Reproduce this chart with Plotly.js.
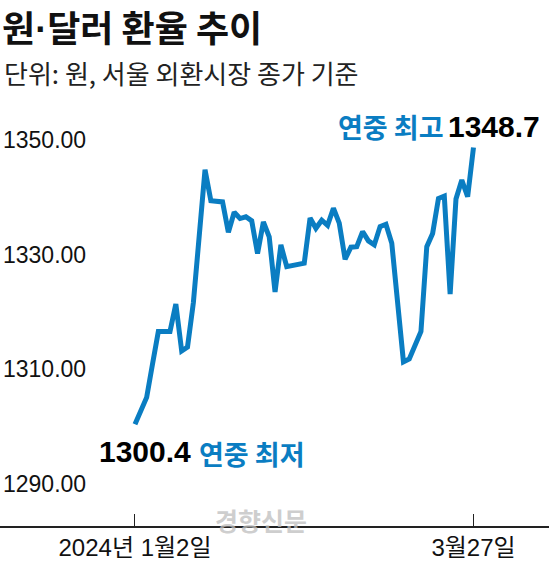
<!DOCTYPE html>
<html>
<head>
<meta charset="utf-8">
<script src="https://cdn.plot.ly/plotly-3.0.1.min.js"></script>
<style>
html,body{margin:0;padding:0;background:#fff;}
#chart{width:549px;height:561px;}
</style>
</head>
<body>
<div id="chart"></div>
<script>
// Trading-day index 0 = 2024-01-02 ... 58 = 2024-03-27
var dayIndex = [];
for (var k = 0; k < 59; k++) dayIndex.push(k);

var rates = [
  1300.4, 1302.8, 1305.1, 1310.9, 1316.6, 1316.6, 1316.6, 1321.4, 1313.2, 1313.9,
  1321.6, 1333.2, 1344.8, 1339.4, 1339.3, 1339.2, 1333.9, 1337.4, 1336.3, 1336.6,
  1335.9, 1330.2, 1335.7, 1333.1, 1323.5, 1331.7, 1327.9, 1328.1, 1328.3, 1328.5,
  1336.4, 1334.6, 1336.0, 1335.1, 1338.1, 1335.5, 1329.2, 1331.3, 1331.4, 1334.0,
  1332.4, 1331.7, 1334.9, 1335.3, 1332.0, 1321.6, 1311.3, 1311.8, 1314.2, 1316.6,
  1331.4, 1333.7, 1339.8, 1340.2, 1323.1, 1339.7, 1343.0, 1340.1, 1348.7
];

var yTickVals = [1290, 1310, 1330, 1350];
var xTickVals = [0, 58];
var xTickText = ["2024년 1월2일", "3월27일"];

var titleParts = ["원", "달러 환율 추이"];
var subtitleText = "단위: 원, 서울 외환시장 종가 기준";
var lowLabel = "연중 최저";
var highLabel = "연중 최고";
var watermark = "경향신문";

var minVal = Math.min.apply(null, rates);
var maxVal = Math.max.apply(null, rates);
var minIdx = rates.indexOf(minVal);
var maxIdx = rates.indexOf(maxVal);

var latin = "'Liberation Sans', 'Noto Sans CJK KR', sans-serif";
var kr = "'Noto Sans CJK KR', 'Noto Sans', sans-serif";
var blue = "#0a7dc2";

var trace = {
  x: dayIndex,
  y: rates,
  type: "scatter",
  mode: "lines",
  line: {color: blue, width: 5},
  hoverinfo: "skip"
};

var layout = {
  width: 549,
  height: 561,
  margin: {l: 0, r: 0, t: 94, b: 35, pad: 0},
  paper_bgcolor: "#fff",
  plot_bgcolor: "#fff",
  showlegend: false,
  title: {
    text: "<b>" + titleParts[0] + "<span style=\"font-family:'Liberation Sans'\">·</span>" + titleParts[1] + "</b>",
    x: 0, xref: "container", xanchor: "left",
    y: 1 - 29 / 561, yref: "container", yanchor: "middle",
    pad: {l: 2},
    font: {family: kr, size: 36, color: "#111"}
  },
  xaxis: {
    range: [-23.13, 70.94],
    tickmode: "array",
    tickvals: xTickVals,
    ticktext: xTickText,
    ticks: "inside",
    ticklen: 12,
    tickwidth: 1,
    tickcolor: "#222",
    showline: true,
    linecolor: "#222",
    linewidth: 1.5,
    showgrid: false,
    zeroline: false,
    tickfont: {family: latin, size: 24, color: "#111"},
    fixedrange: true
  },
  yaxis: {
    range: [1282.67, 1358.02],
    tickmode: "array",
    tickvals: yTickVals,
    tickformat: ".2f",
    ticklabelposition: "inside",
    ticks: "",
    showline: false,
    showgrid: false,
    zeroline: false,
    tickfont: {family: latin, size: 23, color: "#111"},
    fixedrange: true
  },
  annotations: [
    {
      text: subtitleText,
      xref: "paper", yref: "paper",
      x: 0.004, y: 1 + (94 - 73) / 432,
      xanchor: "left", yanchor: "middle",
      showarrow: false,
      font: {family: kr, size: 26, color: "#222"}
    },
    {
      text: "<b>" + minVal.toFixed(1) + "</b>",
      xref: "x", yref: "y", x: minIdx, y: minVal,
      xanchor: "right", yanchor: "middle",
      xshift: 58, yshift: -27,
      showarrow: false,
      font: {family: latin, size: 30, color: "#000"}
    },
    {
      text: "<b>" + lowLabel + "</b>",
      xref: "x", yref: "y", x: minIdx, y: minVal,
      xanchor: "left", yanchor: "middle",
      xshift: 62, yshift: -29,
      showarrow: false,
      font: {family: kr, size: 27, color: blue}
    },
    {
      text: "<b>" + maxVal.toFixed(1) + "</b>",
      xref: "x", yref: "y", x: maxIdx, y: maxVal,
      xanchor: "right", yanchor: "middle",
      xshift: 69, yshift: 21,
      showarrow: false,
      font: {family: latin, size: 30, color: "#000"}
    },
    {
      text: "<b>" + highLabel + "</b>",
      xref: "x", yref: "y", x: maxIdx, y: maxVal,
      xanchor: "right", yanchor: "middle",
      xshift: -27, yshift: 21,
      showarrow: false,
      font: {family: kr, size: 27, color: blue}
    },
    {
      text: "<b>" + watermark + "</b>",
      xref: "paper", yref: "paper",
      x: 261 / 549, y: 6 / 432,
      xanchor: "center", yanchor: "middle",
      showarrow: false,
      font: {family: kr, size: 25, color: "rgba(190,190,190,0.75)"}
    }
  ]
};

Plotly.newPlot("chart", [trace], layout, {displayModeBar: false, staticPlot: true});
</script>
</body>
</html>
